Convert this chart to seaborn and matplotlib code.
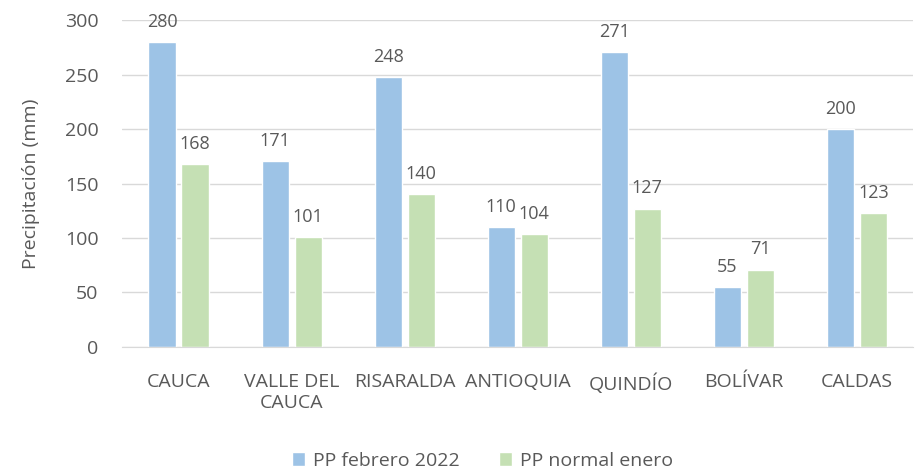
import pandas as pd
import matplotlib.pyplot as plt
import seaborn as sns

# datos
departamentos = ['CAUCA', 'VALLE DEL\nCAUCA', 'RISARALDA', 'ANTIOQUIA', 'QUINDÍO', 'BOLÍVAR', 'CALDAS']
pp_febrero_2022 = [280, 171, 248, 110, 271, 55, 200]
pp_normal_enero = [168, 101, 140, 104, 127, 71, 123]
series = ['PP febrero 2022', 'PP normal enero']
colores = ['#9DC3E6', '#C5E0B4']

df = pd.DataFrame({
    'Departamento': departamentos * 2,
    'Serie': [series[0]] * len(departamentos) + [series[1]] * len(departamentos),
    'PP': pp_febrero_2022 + pp_normal_enero,
})

sns.set_style('white')
plt.rcParams['font.family'] = ['Open Sans', 'DejaVu Sans']
gris = '#595959'

fig = plt.figure(figsize=(9.17, 4.7), dpi=100)
ax = fig.add_axes([0.133, 0.262, 0.863, 0.695])

sns.barplot(data=df, x='Departamento', y='PP', hue='Serie', palette=colores,
            width=0.584, gap=0.18, ax=ax, saturation=1, legend=True)

for cont in ax.containers:
    ax.bar_label(cont, fmt='%d', padding=8, fontsize=13, color=gris)

ax.set_ylim(0, 300)
ax.set_yticks(range(0, 301, 50))
ax.set_xlim(-0.5, len(departamentos) - 0.5)
ax.yaxis.grid(True, color='#d9d9d9', linewidth=1)
ax.set_axisbelow(True)
for s in ['top', 'right', 'left']:
    ax.spines[s].set_visible(False)
ax.spines['bottom'].set_color('#d9d9d9')
ax.tick_params(axis='both', length=0, labelsize=14, colors=gris)
ax.tick_params(axis='x', pad=19)
ax.tick_params(axis='y', pad=17)
ax.set_xlabel('')
ax.set_ylabel('Precipitación (mm)', fontsize=14, color=gris, labelpad=18)

handles, labels = ax.get_legend_handles_labels()
ax.get_legend().remove()
leg = fig.legend(handles, labels, loc='center', bbox_to_anchor=(0.526, 0.02), ncol=2,
                 frameon=False, fontsize=14, handlelength=0.7, handleheight=0.7,
                 columnspacing=2.0, handletextpad=0.4, borderaxespad=0)
for t in leg.get_texts():
    t.set_color(gris)

fig.savefig('out.png', dpi=100)
